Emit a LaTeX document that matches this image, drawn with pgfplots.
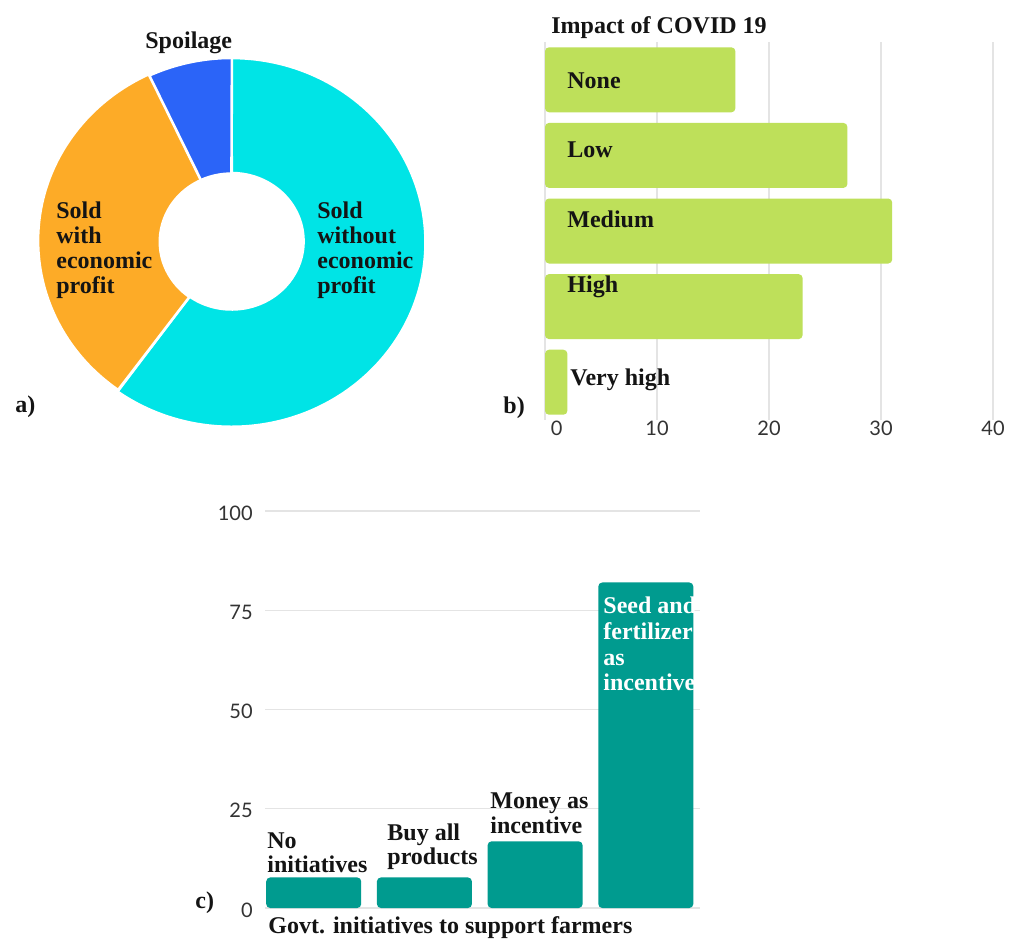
\documentclass[border=0pt]{standalone}
\usepackage{pgfplots}
\pgfplotsset{compat=1.18}
\usepackage{pgfplotstable}
\usepackage{fontspec}
\setmainfont{Liberation Serif}
\newfontfamily\tickfont{Lato}

\definecolor{cyanA}{HTML}{00E4E6}
\definecolor{orangeA}{HTML}{FDAB27}
\definecolor{blueA}{HTML}{2B64F8}
\definecolor{limeB}{HTML}{BEE05A}
\definecolor{tealC}{HTML}{009B8F}
\definecolor{gridc}{HTML}{E4E4E4}

% donut: share of harvest
\pgfplotstableread{
slice value
0 60
1 33
2 7
}\donutdata
% impact of COVID 19 (None, Low, Medium, High, Very high)
\pgfplotstableread{
idx value
0 17
1 27
2 31
3 23
4 2
}\impactdata
% government initiatives
\pgfplotstableread{
idx value
0 7.7
1 7.7
2 16.8
3 82
}\govdata

\pgfplotstablegetelem{0}{value}\of\donutdata \edef\vA{\pgfplotsretval}
\pgfplotstablegetelem{1}{value}\of\donutdata \edef\vB{\pgfplotsretval}
\pgfplotstablegetelem{2}{value}\of\donutdata \edef\vC{\pgfplotsretval}
\pgfmathsetmacro\tot{\vA+\vB+\vC}
\pgfmathsetmacro\aA{90}
\pgfmathsetmacro\aB{90-360*(\vA/\tot)}
\pgfmathsetmacro\aC{\aB-360*(\vB/\tot)}
\pgfmathsetmacro\aD{\aC-360*(\vC/\tot)}

\newcommand{\sector}[3]{%
  \fill[#1, draw=white, line width=1.3pt, line join=round]
    (axis cs:{cos(#2)},{sin(#2)})
    arc[start angle=#2, end angle=#3, x radius=97pt, y radius=92.2pt]
    -- (axis cs:{0.37*cos(#3)},{0.37*sin(#3)})
    arc[start angle=#3, end angle=#2, x radius=35.9pt, y radius=34.1pt]
    -- cycle;}

\newcommand{\labfont}{\fontsize{12}{13}\selectfont\bfseries}
\newcommand{\lab}[3]{\node[anchor=base west, inner sep=0pt, font=\labfont, text=black!92] at (#1*0.5pt, -#2*0.5pt) {#3};}
\newcommand{\wlab}[3]{\node[anchor=base west, inner sep=0pt, font=\labfont, text=white] at (#1*0.5pt, -#2*0.5pt) {#3};}

\begin{document}
\begin{tikzpicture}
\fill[white] (0,0) rectangle (508pt,-469pt);
\useasboundingbox (0,0) rectangle (508pt,-469pt);

% ---------- a) donut ----------
\begin{axis}[hide axis, x=96.5pt, y=91.75pt, xmin=-1, xmax=1, ymin=-1, ymax=1,
  clip=false, anchor=center, at={(115.75pt,-120.75pt)}]
\sector{cyanA}{\aA}{\aB}
\sector{orangeA}{\aB}{\aC}
\sector{blueA}{\aC}{\aD}
\end{axis}

% ---------- b) horizontal bars ----------
\begin{axis}[
  at={(272.5pt,-21pt)}, anchor=north west,
  x=5.6pt, y=37.8pt, y dir=reverse,
  xmin=0, xmax=40, ymin=-0.5, ymax=4.5,
  xbar, bar width=32.5pt, bar shift=0pt,
  axis line style={draw=none}, tick style={draw=none},
  xtick={0,10,20,30,40}, xticklabels={\hphantom{00}0,10,20,30,40},
  ytick=\empty,
  xmajorgrids, grid style={draw=gridc, line width=0.6pt},
  xticklabel style={font=\tickfont\fontsize{10}{12}\selectfont, inner sep=0pt, yshift=-0.5pt, text=black!80},
]
\addplot[fill=limeB, draw=none, rounded corners=2pt] table[x=value, y=idx] \impactdata;
\end{axis}

% ---------- c) vertical bars ----------
\begin{axis}[
  at={(132.5pt,-454pt)}, anchor=south west,
  x=55.35pt, y=1.985pt,
  xmin=-0.44, xmax=3.49, ymin=0, ymax=100,
  ybar, bar width=47.5pt, bar shift=0pt,
  axis line style={draw=none}, tick style={draw=none},
  ytick={0,25,50,75,100}, xtick=\empty,
  ymajorgrids, grid style={draw=gridc, line width=0.6pt},
  /pgf/number format/assume math mode=true,
  yticklabel style={font=\tickfont\fontsize{10}{12}\selectfont, inner sep=0pt, anchor=east, xshift=-6pt, yshift=-1pt, text=black!80},
]
\addplot[fill=tealC, draw=none, rounded corners=2pt] table[x=idx, y=value] \govdata;
\end{axis}

% ---------- labels a) ----------
\lab{145}{48}{Spoilage}
\lab{56}{218}{Sold}
\lab{56}{243}{with}
\lab{56}{268}{economic}
\lab{56}{293}{profit}
\lab{317}{218}{Sold}
\lab{317}{243}{without}
\lab{317}{268}{economic}
\lab{317}{293}{profit}
\lab{15}{412}{a)}

% ---------- labels b) ----------
\lab{551}{33}{Impact of COVID 19}
\lab{567}{88}{None}
\lab{567}{157}{Low}
\lab{567}{227}{Medium}
\lab{567}{292}{High}
\lab{570}{385}{Very high}
\lab{503}{413}{b)}

% ---------- labels c) ----------
\lab{267}{848}{No}
\lab{267}{872}{initiatives}
\lab{387}{840}{Buy all}
\lab{387}{864}{products}
\lab{490}{808}{Money as}
\lab{490}{833}{incentive}
\wlab{603}{613}{Seed and}
\wlab{603}{639}{fertilizer}
\wlab{603}{665}{as}
\wlab{603}{690}{incentive}
\lab{268}{933}{Govt. initiatives to support farmers}
\lab{195}{908}{c)}
\end{tikzpicture}
\end{document}
